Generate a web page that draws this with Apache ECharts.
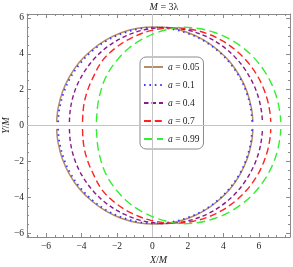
<!DOCTYPE html>
<html><head><meta charset="utf-8">
<script src="https://cdn.jsdelivr.net/npm/echarts@6/dist/echarts.min.js"></script>
<style>html,body{margin:0;padding:0;background:#fff}#c{width:293px;height:267px}</style>
</head><body><div id="c"></div>
<script>
// Upper halves of each shadow curve [X/M, Y/M] (lower halves are mirror images)
const curveA005 = [[-5.40,0.19],[-5.32,0.95],[-5.07,1.88],[-4.66,2.75],[-4.11,3.54],[-3.42,4.21],[-2.64,4.76],[-1.76,5.17],[-0.83,5.42],[0.13,5.50],[1.09,5.42],[2.02,5.17],[2.90,4.76],[3.68,4.21],[4.37,3.54],[4.92,2.75],[5.33,1.88],[5.58,0.95],[5.66,0.19]];
const curveA01 = [[-5.32,0.19],[-5.24,0.95],[-4.99,1.87],[-4.59,2.73],[-4.04,3.51],[-3.37,4.18],[-2.59,4.73],[-1.72,5.13],[-0.80,5.38],[0.15,5.46],[1.10,5.38],[2.02,5.13],[2.89,4.73],[3.67,4.18],[4.34,3.51],[4.89,2.73],[5.29,1.87],[5.54,0.95],[5.62,0.19]];
const curveA04 = [[-4.68,0.2],[-4.64,0.8],[-4.52,1.45],[-4.27,2.2],[-3.87,2.95],[-3.32,3.68],[-2.57,4.37],[-1.6,4.95],[-0.5,5.33],[0.73,5.47],[1.9,5.34],[3.0,4.98],[3.9,4.46],[4.6,3.87],[5.2,3.15],[5.7,2.28],[6.0,1.47],[6.15,0.73],[6.2,0.2]];
const curveA07 = [[-3.94,0.2],[-3.91,0.8],[-3.83,1.35],[-3.66,1.95],[-3.41,2.55],[-2.86,3.57],[-2.12,4.3],[-1.2,4.88],[-0.1,5.29],[1.22,5.45],[2.3,5.34],[3.2,5.08],[4.0,4.69],[4.7,4.19],[5.3,3.61],[5.83,2.91],[6.2,2.21],[6.48,1.42],[6.62,0.73],[6.67,0.2]];
const curveA099 = [[-3.16,0.2],[-3.12,0.8],[-3.06,1.3],[-2.92,1.9],[-2.72,2.5],[-2.4,3.1],[-1.95,3.7],[-1.35,4.3],[-0.6,4.8],[0.3,5.2],[1.2,5.43],[1.75,5.48],[2.6,5.41],[3.5,5.19],[4.33,4.83],[5.05,4.37],[5.7,3.8],[6.3,3.05],[6.75,2.24],[7.05,1.39],[7.2,0.57],[7.23,0.2]];

const seriesNames = ['a = 0.05','a = 0.1','a = 0.4','a = 0.7','a = 0.99'];
const legendLabels = ['{i|a} = 0.05','{i|a} = 0.1','{i|a} = 0.4','{i|a} = 0.7','{i|a} = 0.99'];
const xTickValues = [-6,-4,-2,0,2,4,6];
const yTickValues = [-6,-4,-2,0,2,4,6];
const titleText = '{i|M} = 3λ';

const curves = [curveA005, curveA01, curveA04, curveA07, curveA099];
const styles = [
  {color:'#b68d64', width:1.5, type:'solid', cap:'butt'},
  {color:'#3a3aff', width:1.8, type:[1.6,3.8], cap:'butt'},
  {color:'#8a1a8a', width:1.4, type:[4.5,3], cap:'butt'},
  {color:'#ff2222', width:1.4, type:[7,3.8], cap:'butt'},
  {color:'#33ee33', width:1.4, type:[8.5,4.5], cap:'butt'}
];
const XMIN=-7.07, XMAX=7.75, YMIN=-6.22, YMAX=6.22;
const minorX=[], minorY=[];
for(let v=-7;v<=7.5;v+=0.5){ if(v%2!==0) minorX.push(v); }
for(let v=-6;v<=6;v+=0.5){ if(v%2!==0) minorY.push(v); }

const serif = "'Liberation Serif','DejaVu Serif',serif";
const rich = {i:{fontStyle:'italic', fontFamily:serif, fontSize:10, color:'#222'}};
const fmt = v => (v<0?'\u2212':'') + Math.abs(v);
const frameColor = '#8a8a8a';

function xAx(pos, ticks, len, showLine, showLabel){
  return {type:'value', position:pos, min:XMIN, max:XMAX,
    axisLine:{show:showLine, onZero:false, lineStyle:{color:frameColor, width:1}},
    axisTick:{show:true, inside:true, length:len, customValues:ticks, lineStyle:{color:frameColor}},
    axisLabel:{show:showLabel, customValues:ticks, formatter:fmt, fontFamily:serif, fontSize:9.5, color:'#222', margin:4},
    splitLine:{show:false}};
}
function yAx(pos, ticks, len, showLine, showLabel){
  return {type:'value', position:pos, min:YMIN, max:YMAX,
    axisLine:{show:showLine, onZero:false, lineStyle:{color:frameColor, width:1}},
    axisTick:{show:true, inside:true, length:len, customValues:ticks, lineStyle:{color:frameColor}},
    axisLabel:{show:showLabel, customValues:ticks, formatter:fmt, fontFamily:serif, fontSize:9.5, color:'#222', margin:3},
    splitLine:{show:false}};
}
const xAxes=[xAx('bottom',xTickValues,4,true,true), xAx('bottom',minorX,2,false,false), xAx('top',xTickValues,4,true,false), xAx('top',minorX,2,false,false)];
xAxes[0].name='{i|X}/{i|M}'; xAxes[0].nameLocation='middle'; xAxes[0].nameGap=18; xAxes[0].nameMoveOverlap=false;
xAxes[0].nameTextStyle={fontFamily:serif, fontSize:10, color:'#222', rich:rich};
const yAxes=[yAx('left',yTickValues,4,true,true), yAx('left',minorY,2,false,false), yAx('right',yTickValues,4,true,false), yAx('right',minorY,2,false,false)];
yAxes[0].name='{i|Y}/{i|M}'; yAxes[0].nameLocation='middle'; yAxes[0].nameGap=16; yAxes[0].nameMoveOverlap=false;
yAxes[0].nameTextStyle={fontFamily:serif, fontSize:10, color:'#222', rich:rich};

const series=[];
series.push({type:'line', data:[], silent:true, xAxisIndex:0, yAxisIndex:0,
  markLine:{silent:true, symbol:['none','none'], label:{show:false},
    lineStyle:{color:'#c4c4c4', width:1, type:'solid'}, emphasis:{disabled:true},
    data:[{xAxis:0},{yAxis:0}]}});
curves.forEach((c,i)=>{
  const s=styles[i];
  const lower=c.map(p=>[p[0],-p[1]]);
  [c, lower].forEach(d=>{
    series.push({type:'line', name:seriesNames[i], data:d, smooth:0.35, symbol:'none', showSymbol:false,
      xAxisIndex:0, yAxisIndex:0, z:10+i,
      lineStyle:{color:s.color, width:s.width, type:s.type, cap:s.cap}, itemStyle:{color:s.color},
      emphasis:{disabled:true}, animation:false});
  });
});

const chart = echarts.init(document.getElementById('c'), null, {renderer:'canvas'});
chart.setOption({
  animation:false,
  title:{text:titleText, left:159, top:-3, textAlign:'center',
    textStyle:{fontFamily:serif, fontSize:10, fontWeight:'normal', color:'#222', rich:rich}},
  grid:{left:27, right:3, top:14, bottom:30, containLabel:false, outerBoundsMode:'none'},
  xAxis:xAxes, yAxis:yAxes,
  legend:{data:seriesNames, orient:'vertical', left:140, top:57, padding:[5,4,5,3],
    itemWidth:19, itemHeight:11, itemGap:8, borderColor:'#8a8a8a', borderWidth:1, borderRadius:6,
    backgroundColor:'transparent', selectedMode:false,
    itemStyle:{opacity:0, borderWidth:0},
    formatter: n => legendLabels[seriesNames.indexOf(n)],
    textStyle:{fontFamily:serif, fontSize:9.5, color:'#222', rich:{i:{fontStyle:'italic', fontFamily:serif, fontSize:9.5, color:'#222'}}}},
  series:series
});
</script></body></html>
